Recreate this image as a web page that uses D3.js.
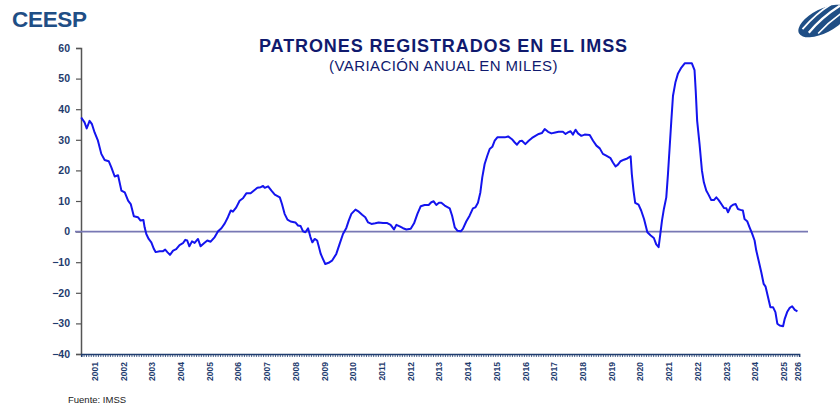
<!DOCTYPE html>
<html>
<head>
<meta charset="utf-8">
<script src="https://cdn.jsdelivr.net/npm/d3@7/dist/d3.min.js"></script>
<style>
  html, body { margin: 0; padding: 0; background: #fff; }
  svg { display: block; font-family: "Liberation Sans", Arial, sans-serif; }
</style>
</head>
<body>
<svg id="chart" width="840" height="407"></svg>
<script>
// ---- DATA (monthly series, month index 0 = Jan 2001) ----
const monthIdx = [
  0, 1.4, 2.3, 3.5, 4.5, 5.6, 7, 8.4, 9.8, 11.5, 12.6, 14, 15.4, 16.8, 18.2, 19.6, 20.7, 22, 23.7, 24.8,
  26, 26.5, 27.2, 28.2, 29.3, 30.4, 31.1, 32.8, 34.2, 35.1, 36, 37.1, 38.4, 39.7, 41.1, 42.5, 43.5, 44.3,
  45.2, 46.3, 47.4, 48.8, 49.9, 51.3, 52.7, 54.1, 55.8, 57.2, 58.6, 60, 61.3, 62.5, 63.4, 64.8, 66.2,
  67.6, 69, 70.8, 72.2, 73.6, 75, 76, 76.7, 78.1, 79.5, 80.9, 83, 83.9, 85, 86.2, 87.5, 89.5, 90.6, 91.7,
  92.7, 93.7, 94.8, 95.8, 96.6, 97.6, 98.6, 99.2, 100.1, 101, 102, 103.4, 104.8, 106.6, 108, 109.4,
  110.8, 111.8, 112.9, 114.6, 116, 117.4, 118.7, 119.9, 121.3, 122.9, 124.3, 126.1, 127.9, 129.3,
  130.7, 131.7, 133.1, 134.5, 135.9, 137.7, 139.1, 140.5, 141.9, 143.5, 145.2, 146.3, 147.3, 148.4,
  149.5, 150.5, 151.9, 154, 155, 156.1, 157.2, 158.6, 159.5, 160.9, 162.3, 163.7, 164.7, 165.8, 166.8,
  167.6, 168.6, 169.7, 170.7, 171.8, 172.8, 173.9, 175.6, 177, 178.4, 180, 181.1, 182.1, 183.2, 184.2,
  185.6, 187, 188.4, 189.8, 191.2, 192.5, 193.7, 195.1, 196.5, 198.1, 199.5, 201.3, 202.4, 203.4,
  204.5, 205.5, 206.6, 207.6, 209, 210.4, 212.5, 213.9, 215.3, 216.7, 218, 219.4, 221.2, 222.2, 223.3,
  224.3, 225.4, 226.8, 228.2, 229.6, 230.1, 230.8, 231.5, 232.9, 234, 235.2, 236.6, 238, 239.3, 240.3,
  241.3, 242, 242.7, 243.5, 244.5, 245.2, 245.9, 246.6, 247.3, 248.3, 249.4, 250.8, 252.2, 253.5,
  255.2, 256.3, 256.8, 257.4, 258.4, 259.4, 260.2, 261.2, 262.2, 263.3, 264.4, 265.4, 266.4, 267.5,
  268.6, 269.6, 270.3, 271.4, 272.4, 273.5, 274.4, 275.5, 276.5, 277.2, 278.3, 279.3, 280.3, 281.4,
  282.1, 283.1, 284.2, 285.2, 286, 287, 288, 289.1, 290.1, 290.9, 291.9, 293.3, 294, 295, 296.1,
  297.1, 298.2, 299.3
];
const values = [
  37.3, 35.7, 33.7, 36.2, 35.1, 32.4, 29.7, 25.4, 23.4, 23.0, 21.0, 18.0, 18.4, 13.4, 12.8, 10.1, 9.0, 5.0, 4.7, 3.6,
  3.8, 1.4, -0.8, -2.4, -3.5, -5.7, -6.7, -6.4, -6.4, -5.9, -6.7, -7.6, -6.2, -5.7, -4.4, -3.8, -2.7, -2.9,
  -4.8, -3.2, -3.7, -2.4, -4.8, -3.8, -2.9, -3.3, -1.8, 0.1, 1.1, 2.7, 4.7, 6.9, 6.5, 7.9, 10.1,
  10.9, 12.5, 12.5, 13.4, 14.3, 14.5, 14.9, 14.3, 14.8, 13.4, 12.1, 11.2, 9.0, 5.8, 3.9, 3.3, 3.0, 2.0, 1.8,
  0.1, -0.2, 1.1, -1.8, -3.5, -2.4, -2.9, -4.6, -7.3, -8.9, -10.6, -10.2, -9.5, -7.3, -4.0, -0.8,
  1.2, 3.6, 5.8, 7.2, 6.5, 5.5, 4.7, 3.0, 2.5, 2.7, 3.0, 2.8, 2.8, 2.2,
  0.7, 2.2, 1.7, 1.1, 0.7, 0.9, 2.7, 5.8, 8.3, 8.7, 8.7, 9.6, 9.9, 8.7,
  9.4, 9.4, 8.5, 7.6, 5.2, 1.4, 0.3, 0.1, 0.9, 3.3, 5.2, 7.6, 7.9, 9.4, 12.8,
  17.7, 22.1, 24.8, 27.0, 27.7, 29.7, 30.8, 30.8, 30.8, 31.1, 30.2, 29.2, 28.4, 29.5, 29.7,
  28.6, 29.7, 30.6, 31.3, 31.9, 32.2, 33.5, 32.6, 32.1, 32.4, 32.6, 32.6, 31.9, 32.4,
  32.8, 31.7, 33.3, 32.1, 31.3, 31.7, 31.6, 29.7, 28.1, 27.2, 25.4, 24.8, 24.0, 22.6, 21.3,
  21.9, 23.0, 23.5, 23.9, 24.6, 18.8, 13.4, 9.4, 8.8, 6.9, 4.1, -0.2, -1.3, -2.1, -4.2,
  -5.1, -0.8, 3.6, 7.4, 11.2, 18.8, 27.5, 36.2, 44.4, 48.7, 51.7, 53.6, 55.0, 55.0,
  55.0, 52.8, 46.0, 36.2, 28.6, 19.9, 16.1, 13.4, 12.0, 10.3, 10.3, 11.2, 10.3, 9.0,
  7.7, 7.6, 6.3, 8.2, 8.8, 9.0, 7.4, 7.1, 6.9, 4.1, 3.4, 1.4, -0.5, -2.9,
  -6.2, -9.5, -13.3, -17.1, -18.0, -21.4, -24.7, -24.7, -26.3, -30.1, -30.7, -30.9, -28.5, -26.3, -24.9,
  -24.4, -25.6, -26.1
];
const yTicks = [-40, -30, -20, -10, 0, 10, 20, 30, 40, 50, 60];
const yearLabels = ["2001","2002","2003","2004","2005","2006","2007","2008","2009","2010","2011","2012","2013",
  "2014","2015","2016","2017","2018","2019","2020","2021","2022","2023","2024","2025","2026"];
const yearLabelIdx = [5.5, 17.5, 29.5, 41.5, 53.5, 65.5, 77.5, 89.5, 101.5, 113.5, 125.5, 137.5, 149.5,
  161.5, 173.5, 185.5, 197.5, 209.5, 221.5, 233.5, 245.5, 257.5, 269.5, 281.5, 293.5, 299.3];

const titleText = "PATRONES REGISTRADOS EN EL IMSS";
const subtitleText = "(VARIACIÓN ANUAL EN MILES)";
const sourceText = "Fuente: IMSS";

// ---- DRAW ----
const svg = d3.select("#chart");
const navy = "#1F3C6E";

const x = d3.scaleLinear().domain([0, 300]).range([81.2, 799.1]);
const y = d3.scaleLinear().domain([-40, 60]).range([354, 48]);

// Logo text
svg.append("text").attr("x", 12).attr("y", 26.5)
  .attr("font-size", 22.5).attr("font-weight", "bold").attr("fill", "#1F4E85")
  .attr("letter-spacing", -0.3)
  .text("CEESP");

// Right logo (stylised swoosh)
const lg = svg.append("g").attr("transform", "translate(823,21) rotate(-27)");
lg.append("ellipse").attr("rx", 27).attr("ry", 12).attr("fill", "#1F4E85");
lg.append("path").attr("d", "M-18,4 Q0,-4 22,-6").attr("stroke", "#fff").attr("stroke-width", 2.2).attr("fill", "none");
lg.append("path").attr("d", "M-22,-2 Q-2,-10 14,-11").attr("stroke", "#fff").attr("stroke-width", 1.8).attr("fill", "none");
lg.append("path").attr("d", "M-10,9 Q6,3 24,1").attr("stroke", "#fff").attr("stroke-width", 1.6).attr("fill", "none");

// Titles
svg.append("text").attr("x", 443.5).attr("y", 52).attr("text-anchor", "middle")
  .attr("font-size", 18).attr("font-weight", "bold").attr("fill", "#101A6E")
  .attr("letter-spacing", 0.9)
  .text(titleText);
svg.append("text").attr("x", 443.5).attr("y", 70.5).attr("text-anchor", "middle")
  .attr("font-size", 15).attr("fill", "#101A6E")
  .attr("letter-spacing", 0.4)
  .text(subtitleText);

// Y axis
const yAxis = svg.append("g").attr("transform", "translate(81,0)")
  .call(d3.axisLeft(y).tickValues(yTicks).tickSize(5).tickPadding(6).tickFormat(d3.format("d")));
yAxis.select(".domain").attr("stroke", "#555").attr("stroke-width", 1.5);
yAxis.selectAll(".tick line").attr("stroke", "#555").attr("stroke-width", 1.2);
yAxis.selectAll(".tick text").attr("font-size", 10.5).attr("font-weight", "bold").attr("fill", navy)
  .attr("font-family", "'Liberation Sans', Arial, sans-serif");

// Zero line
svg.append("line").attr("x1", 75).attr("x2", 808).attr("y1", y(0)).attr("y2", y(0))
  .attr("stroke", "#7878B4").attr("stroke-width", 1.6);

// X axis (monthly ticks)
const xAxis = svg.append("g").attr("transform", `translate(0,${y(-40)})`)
  .call(d3.axisBottom(x).tickValues(d3.range(0, 301)).tickSize(3).tickFormat(""));
xAxis.select(".domain").attr("stroke", navy).attr("stroke-width", 1.5);
xAxis.selectAll(".tick line").attr("stroke", navy).attr("stroke-width", 0.8);

// Year labels
const xLab = svg.append("g").attr("transform", `translate(0,${y(-40)})`)
  .call(d3.axisBottom(x).tickValues(yearLabelIdx).tickSize(0)
    .tickFormat((d, i) => yearLabels[i]));
xLab.select(".domain").remove();
xLab.selectAll(".tick text")
  .attr("font-size", 8.5).attr("font-weight", "bold").attr("fill", navy)
  .attr("font-family", "'Liberation Sans', Arial, sans-serif")
  .attr("text-anchor", "end")
  .attr("transform", "rotate(-90)")
  .attr("x", -8).attr("y", 0).attr("dy", "0.35em");

// Series line
const pts = monthIdx.map((m, i) => [m, values[i]]);
svg.append("path").datum(pts)
  .attr("fill", "none").attr("stroke", "#1414EE").attr("stroke-width", 2)
  .attr("stroke-linejoin", "round")
  .attr("d", d3.line().x(d => x(d[0])).y(d => y(d[1])));

// Source
svg.append("text").attr("x", 68).attr("y", 403).attr("font-size", 9.5).attr("fill", "#222")
  .text(sourceText);
</script>
</body>
</html>
